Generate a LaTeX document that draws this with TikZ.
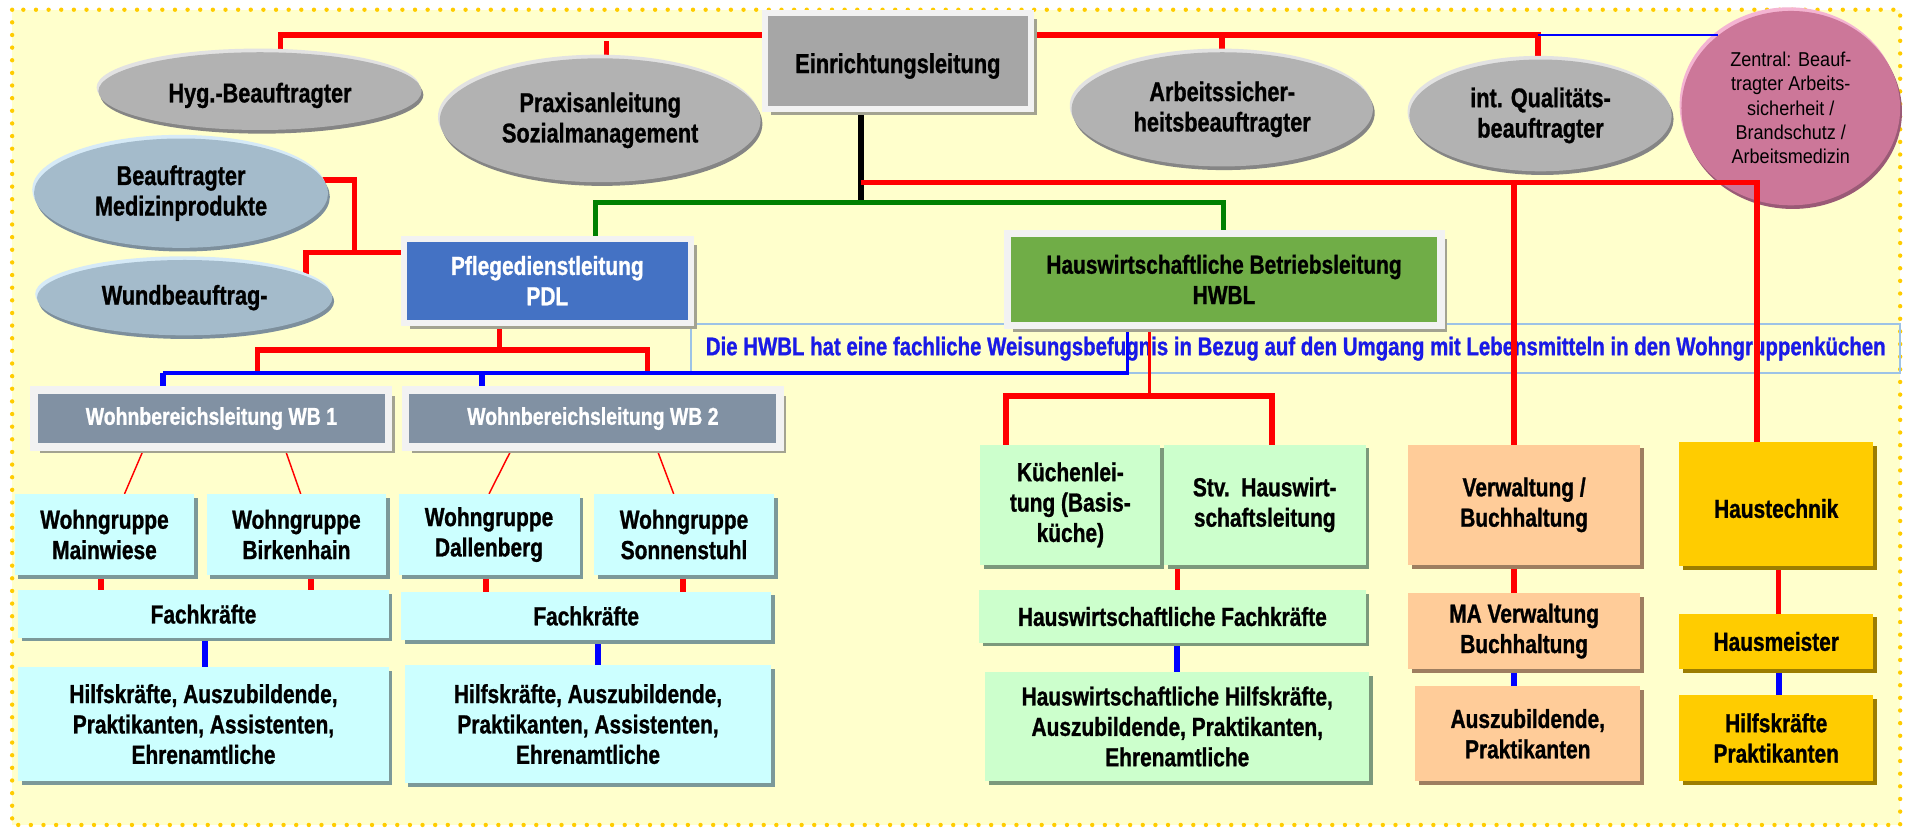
\documentclass[tikz,border=0pt]{standalone}
\usepackage{fontspec}
\setmainfont{Liberation Sans}[FakeStretch=0.8, BoldFeatures={FakeBold=1.0}]
\newfontfamily\zfont{Liberation Sans}[FakeStretch=0.9]
\usetikzlibrary{shapes.geometric,shadows}
\pgfdeclarelayer{bg}
\pgfsetlayers{bg,main}
\definecolor{cBg}{HTML}{FFFFCC}
\definecolor{cDot}{HTML}{FFCC00}
\definecolor{cRed}{HTML}{FF0000}
\definecolor{cGreenL}{HTML}{008000}
\definecolor{cBlue}{HTML}{0000FF}
\definecolor{cText}{HTML}{1A1AE6}
\definecolor{cFrame}{HTML}{F2F2F2}
\definecolor{cFrameSh}{HTML}{A3A391}
\definecolor{cEin}{HTML}{A6A6A6}
\definecolor{cEll}{HTML}{B2B2B2}
\definecolor{cEllHi}{HTML}{E2E2E2}
\definecolor{cEllSh}{HTML}{858585}
\definecolor{cEllB}{HTML}{A4BBCB}
\definecolor{cEllBHi}{HTML}{D6EAF7}
\definecolor{cEllBSh}{HTML}{7D8F9C}
\definecolor{cPink}{HTML}{CC7799}
\definecolor{cPinkHi}{HTML}{F4B4D2}
\definecolor{cPinkSh}{HTML}{9A5A76}
\definecolor{cPDL}{HTML}{4472C4}
\definecolor{cHWBL}{HTML}{70AD47}
\definecolor{cWB}{HTML}{8191A3}
\definecolor{cCyan}{HTML}{CCFFFF}
\definecolor{cCyanSh}{HTML}{7C9999}
\definecolor{cMint}{HTML}{CCFFCC}
\definecolor{cMintSh}{HTML}{7C997C}
\definecolor{cPeach}{HTML}{FFCC99}
\definecolor{cPeachSh}{HTML}{9E7E60}
\definecolor{cGold}{HTML}{FFCC00}
\definecolor{cGoldSh}{HTML}{9C7D00}
\definecolor{cBanner}{HTML}{9DC3E6}
\tikzset{
  lbl/.style={font=\bfseries\fontsize{21.5}{25}\selectfont, align=center, inner sep=0pt, outer sep=0pt, text=black},
  dropText/.style={execute at begin node={\rule{0pt}{#1}}},
  framebox/.style={lbl, rectangle, draw=cFrame, line width=5pt,
    general shadow={fill=cFrameSh, draw=none, shadow xshift=5pt, shadow yshift=-5pt}},
  oval/.style n args={3}{lbl, ellipse, fill=#1, draw=none, font=\bfseries\fontsize{22.3}{25}\selectfont,
    general shadow={fill=#2, draw=none, shadow xshift=-1.5pt, shadow yshift=3pt},
    general shadow={fill=#3, draw=none, shadow xshift=1.5pt, shadow yshift=-3pt}},
  ell/.style={oval={cEll}{cEllHi}{cEllSh}},
  ellb/.style={oval={cEllB}{cEllBHi}{cEllBSh}},
  zell/.style={oval={cPink}{cPinkHi}{cPinkSh}, font=\zfont\fontsize{16.5}{20}\selectfont},
  sbox/.style 2 args={lbl, rectangle, fill=#1, draw=none,
    general shadow={fill=#2, draw=none, shadow xshift=3pt, shadow yshift=-3pt}},
  cyb/.style={sbox={cCyan}{cCyanSh}},
  grb/.style={sbox={cMint}{cMintSh}},
  peb/.style={sbox={cPeach}{cPeachSh}},
  gob/.style={sbox={cGold}{cGoldSh}},
  redl/.style={draw=cRed, line width=4.5pt},
  redm/.style={draw=cRed, line width=3pt},
  redthin/.style={draw=cRed, line width=1.2pt},
  bluel/.style={draw=cBlue, line width=3pt},
  bluestub/.style={draw=cBlue, line width=5pt},
  bluethin/.style={draw=cBlue, line width=2pt},
  blackl/.style={draw=black, line width=5pt},
  greenl/.style={draw=cGreenL, line width=4pt},
}
\begin{document}
\begin{tikzpicture}[x=1pt,y=-1pt]
\useasboundingbox (0,0) rectangle (1568,682);
% ---------- nodes (main layer)
\node[framebox, fill=cEin, minimum width=219, minimum height=79, font=\bfseries\fontsize{22.5}{26}\selectfont, dropText=25pt] (ein) at (739,50) {Einrichtungsleitung};
\node[ell, minimum width=266, minimum height=64, dropText=23.3pt] (hyg) at (214,75) {Hyg.-Beauftragter};
\node[ell, minimum width=264, minimum height=102] (prax) at (494,99) {Praxisanleitung\\Sozialmanagement};
\node[ell, minimum width=248, minimum height=94] (arb) at (1006,90) {Arbeitssicher-\\heitsbeauftragter};
\node[ell, minimum width=216, minimum height=92] (qual) at (1268,95) {int. Qualitäts-\\beauftragter};
\node[ellb, minimum width=242, minimum height=90] (med) at (149,159) {Beauftragter\\Medizinprodukte};
\node[ellb, minimum width=243, minimum height=62] (wund) at (152,245) {Wundbeauftrag-};
\node[framebox, fill=cPDL, text=white, minimum width=236, minimum height=69] (pdl) at (450.5,231) {Pflegedienstleitung\\PDL};
\node[framebox, fill=cHWBL, line width=6pt, minimum width=357, minimum height=76] (hwbl) at (1007.5,230) {Hauswirtschaftliche Betriebsleitung\\HWBL};
\node[framebox, fill=cWB, line width=6pt, text=white, minimum width=292, minimum height=47, font=\bfseries\fontsize{20}{24}\selectfont] (wb1) at (174,344.5) {Wohnbereichsleitung WB 1};
\node[framebox, fill=cWB, line width=6pt, text=white, minimum width=308, minimum height=47, font=\bfseries\fontsize{20}{24}\selectfont] (wb2) at (488,344.5) {Wohnbereichsleitung WB 2};
% Wohngruppen
\node[cyb, minimum width=148, minimum height=67] (mw) at (86,440) {Wohngruppe\\Mainwiese};
\node[cyb, minimum width=148, minimum height=67] (bh) at (244,440) {Wohngruppe\\Birkenhain};
\node[cyb, minimum width=149, minimum height=67] (dal) at (402.5,440) {Wohngruppe\\Dallenberg};
\node[cyb, minimum width=148, minimum height=67] (son) at (563,440) {Wohngruppe\\Sonnenstuhl};
\node[cyb, minimum width=305, minimum height=39] (fkl) at (167.5,505.5) {Fachkräfte};
\node[cyb, minimum width=305, minimum height=40] (fkr) at (482.5,507) {Fachkräfte};
\node[cyb, minimum width=305, minimum height=94] (hkl) at (167.5,596) {Hilfskräfte, Auszubildende,\\Praktikanten, Assistenten,\\Ehrenamtliche};
\node[cyb, minimum width=302, minimum height=97] (hkr) at (484,596) {Hilfskräfte, Auszubildende,\\Praktikanten, Assistenten,\\Ehrenamtliche};
% Hauswirtschaft
\node[grb, minimum width=148, minimum height=99, dropText=24.7pt] (kue) at (881,415.5) {Küchenlei-\\tung (Basis-\\küche)};
\node[grb, minimum width=166, minimum height=99, dropText=24.7pt] (stv) at (1041,415.5) {Stv.~~Hauswirt-\\schaftsleitung};
\node[grb, minimum width=318, minimum height=43] (hwf) at (965,507.5) {Hauswirtschaftliche Fachkräfte};
\node[grb, minimum width=316, minimum height=90] (hwh) at (969,598) {Hauswirtschaftliche Hilfskräfte,\\Auszubildende, Praktikanten,\\Ehrenamtliche};
% Verwaltung
\node[peb, minimum width=191, minimum height=99, dropText=25.5pt] (verw) at (1254.5,415.5) {Verwaltung /\\Buchhaltung};
\node[peb, minimum width=191, minimum height=63, dropText=20.7pt] (ma) at (1254.5,519.5) {MA Verwaltung\\Buchhaltung};
\node[peb, minimum width=185, minimum height=78] (azb) at (1257.5,604) {Auszubildende,\\Praktikanten};
% Haustechnik
\node[gob, minimum width=160, minimum height=102, dropText=22.7pt] (ht) at (1462,415) {Haustechnik};
\node[gob, minimum width=160, minimum height=46] (hm) at (1462,528) {Hausmeister};
\node[gob, minimum width=160, minimum height=71] (hp) at (1462,607.5) {Hilfskräfte\\Praktikanten};
% ---------- background layer
\begin{pgfonlayer}{bg}
\fill[white] (0,0) rectangle (1568,682);
\fill[cBg] (10,8) rectangle (1564,679);
\draw[cDot, line width=3.6pt, line cap=round, dash pattern=on 0pt off 10.4pt] (10,8) rectangle (1564,679);
\node[draw=cBanner, line width=1.5pt, minimum width=995, minimum height=40, inner sep=0pt, font=\bfseries\fontsize{21}{22}\selectfont, text=cText] (ban) at (1066.5,287) {Die HWBL hat eine fachliche Weisungsbefugnis in Bezug auf den Umgang mit Lebensmitteln in den Wohngruppenküchen};
\node[zell, minimum width=180, minimum height=160] (zent) at (1474,89) {Zentral: Beauf-\\tragter Arbeits-\\sicherheit /\\Brandschutz /\\Arbeitsmedizin};
% top red line
\coordinate (tl) at (231,29);
\coordinate (tr) at (1266,29);
\coordinate (ps) at (499,34);
\draw[redl] (hyg.center -| tl) -- (tl) -- (tr) -- (qual.center -| tr);
\draw[redl] (ps) -- (ps |- prax.center);
\draw[redl] (arb.center |- tl) -- (arb.center);
\draw[bluethin] (tr) -- (tr -| zent.135);
% black + green
\coordinate (gj) at (709,167);
\draw[blackl] (ein.center -| gj) -- (gj);
\coordinate (gl) at (490,167);
\coordinate (gr) at (1007,167);
\draw[greenl] (pdl.center -| gl) -- (gl) -- (gr) -- (hwbl.center -| gr);
% second red line
\coordinate (ra) at (709,150);
\coordinate (rb) at (1246,150);
\coordinate (rc) at (1446,150);
\draw[redl] (ra) -- (rc) -- (ht.center -| rc);
\draw[redl] (rb) -- (verw.center -| rb);
% Medizin / Wund / PDL
\coordinate (m1) at (292,148);
\coordinate (m2) at (292,208);
\coordinate (w1) at (252,208);
\draw[redl] (med.center |- m1) -- (m1) -- (m2) -- (pdl.center |- m2);
\draw[redl] (m2) -- (w1) -- (wund.center -| w1);
% PDL tree
\coordinate (p1) at (411,288);
\coordinate (p2) at (212,288);
\coordinate (p3) at (533,288);
\coordinate (p4) at (212,307);
\coordinate (p5) at (533,307);
\draw[redl] (pdl.center -| p1) -- (p1);
\draw[redl] (p4) -- (p2) -- (p3) -- (p5);
% blue WB line
\coordinate (b1) at (928,307);
\coordinate (b2) at (134,307);
\coordinate (b3) at (397,307);
\draw[bluel] (hwbl.center -| b1) -- (b1) -- (b2);
\draw[bluestub] (b2) -- (wb1.center -| b2);
\draw[bluestub] (b3) -- (wb2.center -| b3);
% HWBL tree
\coordinate (h1) at (946,326);
\coordinate (h2) at (828,326);
\coordinate (h3) at (1047,326);
\draw[redm] (hwbl.center -| h1) -- (h1);
\draw[redl] (kue.center -| h2) -- (h2) -- (h3) -- (stv.center -| h3);
% thin red WB -> Wohngruppen
\draw[redthin] ([xshift=-55pt]wb1.south) -- ([xshift=16.5pt]mw.north);
\draw[redthin] ([xshift=60pt]wb1.south) -- ([xshift=3.5pt]bh.north);
\draw[redthin] ([xshift=-66pt]wb2.south) -- ([xshift=0pt]dal.north);
\draw[redthin] ([xshift=52pt]wb2.south) -- ([xshift=-8.5pt]son.north);
% stubs
\coordinate (xa) at (83,0);
\coordinate (xb) at (256,0);
\coordinate (xc) at (400,0);
\coordinate (xd) at (562,0);
\coordinate (xe) at (169,0);
\coordinate (xf) at (492,0);
\coordinate (xg) at (969,0);
\coordinate (xh) at (1246,0);
\coordinate (xi) at (1464,0);
\draw[redl] (mw.center -| xa) -- (fkl.center -| xa);
\draw[redl] (bh.center -| xb) -- (fkl.center -| xb);
\draw[redl] (dal.center -| xc) -- (fkr.center -| xc);
\draw[redl] (son.center -| xd) -- (fkr.center -| xd);
\draw[bluestub] (fkl.center -| xe) -- (hkl.center -| xe);
\draw[bluestub] (fkr.center -| xf) -- (hkr.center -| xf);
\draw[redl] (kue.south -| xg) -- (hwf.center -| xg);
\draw[bluestub] (hwf.center -| xg) -- (hwh.center -| xg);
\draw[redl] (verw.center -| xh) -- (ma.center -| xh);
\draw[bluestub] (ma.center -| xh) -- (azb.center -| xh);
\draw[redl] (ht.center -| xi) -- (hm.center -| xi);
\draw[bluestub] (hm.center -| xi) -- (hp.center -| xi);
\end{pgfonlayer}
\end{tikzpicture}
\end{document}
